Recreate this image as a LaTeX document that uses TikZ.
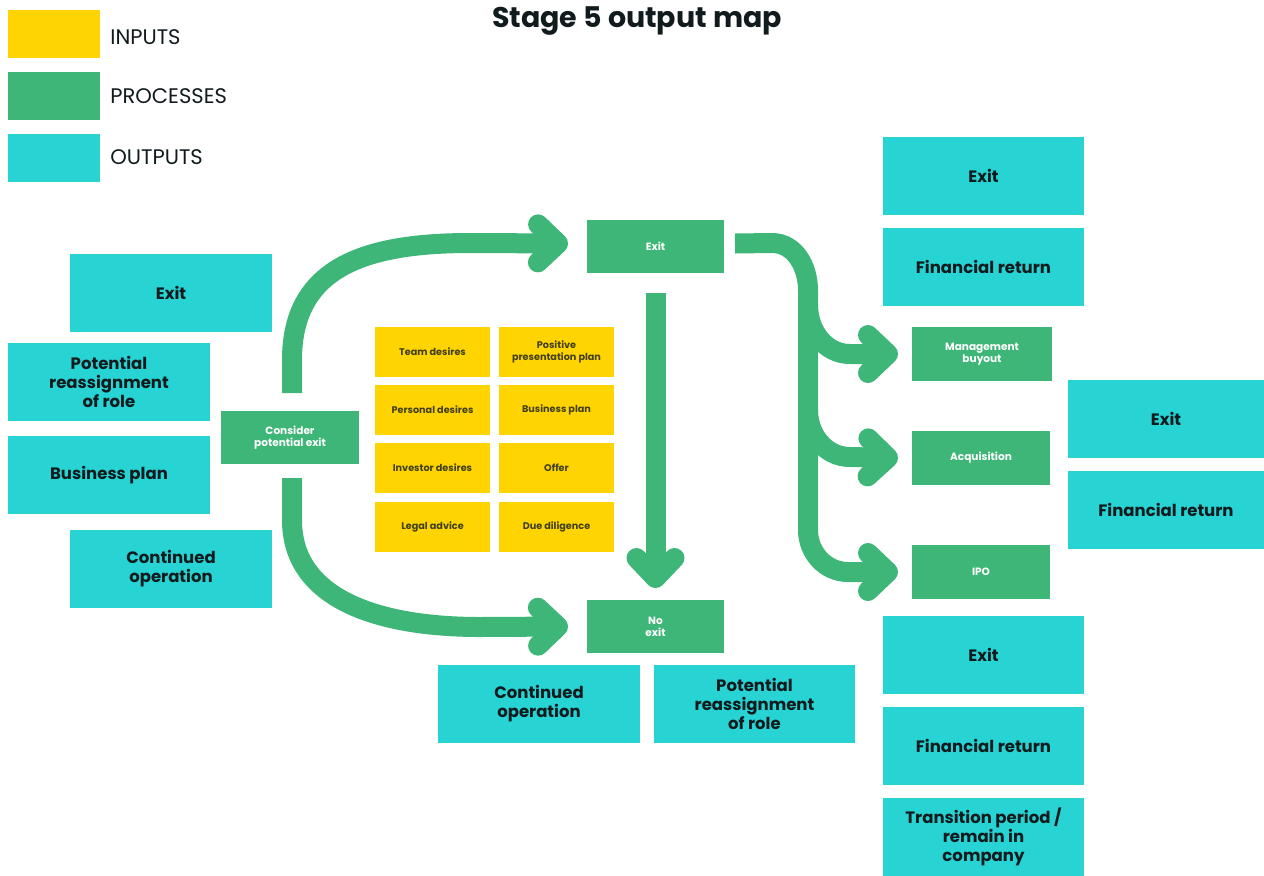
\documentclass[tikz,border=0pt]{standalone}
\usepackage{fontspec}
\setmainfont{Poppins}
\usetikzlibrary{arrows.meta,calc}
\definecolor{inp}{HTML}{FFD400}
\definecolor{proc}{HTML}{3DB677}
\definecolor{outp}{HTML}{27D3D3}
\definecolor{ink}{HTML}{111B1E}
% place a box by its corners (in px units)
\newcommand\boxat[7]{\node[#1, minimum width={(#4-#2)*0.2mm}, minimum height={(#5-#3)*0.2mm}] (#6) at ({(#2+#4)/2},{(#3+#5)/2}) {#7};}
\begin{document}
\begin{tikzpicture}[x=0.2mm,y=-0.2mm,
  base/.style={inner sep=0pt, outer sep=0pt, align=center},
  outbox/.style={base, fill=outp, text=ink, font=\fontsize{9.4}{10.8}\selectfont\bfseries},
  procbox/.style={base, fill=proc, text=white, font=\fontsize{6}{7}\selectfont\bfseries},
  inbox/.style={base, fill=inp, text=ink!80!inp, font=\fontsize{5.5}{6.6}\selectfont\bfseries},
  legendbox/.style={base, minimum width=92*0.2mm, minimum height=48*0.2mm},
  legendtext/.style={anchor=west, inner sep=0pt, text=ink, font=\fontsize{12}{13}\selectfont},
  flow/.style={draw=proc, line width=4mm, line cap=butt,
    -{Straight Barb[length=4mm, width=7.6mm, round]}}]
\useasboundingbox (0,0) rectangle (1264,875);

% title
\node[inner sep=0pt, text=ink, font=\fontsize{16.2}{18}\selectfont\bfseries] (title) at (637,21) {Stage 5 output map};

% legend
\node[legendbox, fill=inp] (lgin) at (54,34) {};
\node[legendbox, fill=proc] (lgproc) at (54,96) {};
\node[legendbox, fill=outp] (lgout) at (54,158) {};
\node[legendtext] (lgintext) at (110,37) {INPUTS};
\node[legendtext] (lgproctext) at (110,96) {PROCESSES};
\node[legendtext] (lgouttext) at (110,157) {OUTPUTS};

% left outputs
\boxat{outbox}{70}{254}{272}{332}{lexit}{Exit}
\boxat{outbox}{8}{343}{210}{421}{lrole}{Potential\\reassignment\\of role}
\boxat{outbox}{8}{436}{210}{514}{lplan}{Business plan}
\boxat{outbox}{70}{530}{272}{608}{lcont}{Continued\\operation}

% central process
\boxat{procbox}{221}{411}{359}{464}{consider}{Consider\\potential exit}

% inputs grid
\boxat{inbox}{375}{327}{490}{377}{i1}{Team desires}
\boxat{inbox}{499}{327}{614}{377}{i2}{Positive\\presentation plan}
\boxat{inbox}{375}{385}{490}{435}{i3}{Personal desires}
\boxat{inbox}{499}{385}{614}{435}{i4}{Business plan}
\boxat{inbox}{375}{443}{490}{493}{i5}{Investor desires}
\boxat{inbox}{499}{443}{614}{493}{i6}{Offer}
\boxat{inbox}{375}{502}{490}{552}{i7}{Legal advice}
\boxat{inbox}{499}{502}{614}{552}{i8}{Due diligence}

% decisions
\boxat{procbox}{587}{220}{724}{273}{exit}{Exit}
\boxat{procbox}{587}{600}{724}{653}{noexit}{No\\exit}

% exit routes
\boxat{procbox}{912}{327}{1052}{381}{mbo}{Management\\buyout}
\boxat{procbox}{912}{431}{1050}{485}{acq}{Acquisition}
\boxat{procbox}{912}{545}{1050}{599}{ipo}{IPO}

% outputs of no exit
\boxat{outbox}{438}{665}{640}{743}{ncont}{Continued\\operation}
\boxat{outbox}{654}{665}{855}{743}{nrole}{Potential\\reassignment\\of role}

% outputs of exit routes
\boxat{outbox}{883}{137}{1084}{215}{mexit}{Exit}
\boxat{outbox}{883}{228}{1084}{306}{mfin}{Financial return}
\boxat{outbox}{1068}{380}{1264}{458}{aexit}{Exit}
\boxat{outbox}{1068}{471}{1264}{549}{afin}{Financial return}
\boxat{outbox}{883}{616}{1084}{694}{pexit}{Exit}
\boxat{outbox}{883}{707}{1084}{785}{pfin}{Financial return}
\boxat{outbox}{883}{798}{1084}{876}{ptrans}{Transition period /\\remain in\\company}

% flows out of the decision
\coordinate (upstart) at ($(consider.north)+(2,-18)$);
\coordinate (downstart) at ($(consider.south)+(2,14)$);
\coordinate (exitin) at ($(exit.west)+(-19,-3)$);
\coordinate (noexitin) at ($(noexit.west)+(-19,0)$);
\draw[flow] (upstart) -- ++(0,-33) .. controls +(0,-90) and (360,243) .. (470,243) -- (exitin);
\draw[flow] (downstart) -- ++(0,42) .. controls +(0,80) and (380,627) .. (480,627) -- (noexitin);

% exit falls back to no exit
\coordinate (vstart) at ($(exit.south)+(0,20)$);
\coordinate (vend) at ($(noexit.north)+(0,-12)$);
\draw[flow] (vstart) -- (vend);

% exit branches into the three routes
\coordinate (rstart) at ($(exit.east)+(11,-3)$);
\coordinate (mboin) at ($(mbo.west)+(-14,0)$);
\coordinate (acqin) at ($(acq.west)+(-14,0)$);
\coordinate (ipoin) at ($(ipo.west)+(-14,0)$);
\draw[flow] (rstart) -- (772,243) to[out=0,in=90] (808,290) -- (808,530) to[out=-90,in=180] (848,572) -- (ipoin);
\draw[flow] (808,305) to[out=-90,in=180] (850,354) -- (mboin);
\draw[flow] (808,410) to[out=-90,in=180] (850,457) -- (acqin);
\end{tikzpicture}
\end{document}
